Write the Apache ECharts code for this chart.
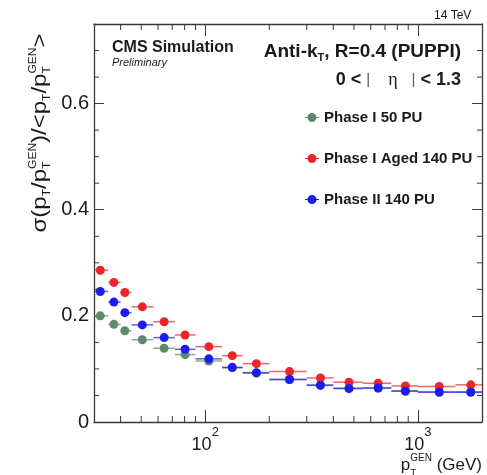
<!DOCTYPE html>
<html>
<head>
<meta charset="utf-8">
<script src="https://cdn.jsdelivr.net/npm/echarts@6/dist/echarts.min.js"></script>
<style>
  html, body { margin: 0; padding: 0; background: #fff; }
  #chart { width: 487px; height: 475px; }
</style>
</head>
<body>
<div id="chart"></div>
<script>
// pT bins (GeV) and mean pT of each bin
var binLow  = [30, 35, 40, 45, 57, 72, 90, 120, 150, 200, 300, 400, 550, 750, 1000, 1500];
var binHigh = [35, 40, 45, 57, 72, 90, 120, 150, 200, 300, 400, 550, 750, 1000, 1500, 2000];
var ptMean  = [32.1, 37.2, 41.9, 50.6, 64.1, 80.4, 104, 134, 174, 249, 348, 474, 650, 873, 1259, 1771];

// relative resolution
var phase1PU50   = [0.200, 0.184, 0.172, 0.155, 0.139, 0.127, 0.115, 0.102, 0.092, 0.080, 0.070, 0.064, 0.064, 0.059, 0.057, 0.057];
var phase1Aged   = [0.286, 0.263, 0.244, 0.217, 0.189, 0.164, 0.142, 0.125, 0.110, 0.095, 0.083, 0.075, 0.073, 0.068, 0.067, 0.070];
var phase2PU140  = [0.246, 0.226, 0.206, 0.183, 0.159, 0.137, 0.119, 0.103, 0.093, 0.080, 0.069, 0.063, 0.064, 0.058, 0.056, 0.056];

var seriesNames  = ['Phase I 50 PU', 'Phase I Aged 140 PU', 'Phase II 140 PU'];
var seriesColors = ['#5c8a6c', '#e8262b', '#1c1cf0'];

var xMinor = [40, 50, 60, 70, 80, 90, 200, 300, 400, 500, 600, 700, 800, 900];
var yMinor = [0.05, 0.1, 0.15, 0.25, 0.3, 0.35, 0.45, 0.5, 0.55, 0.65, 0.7];

var FONT = "'Liberation Sans', Arial, Helvetica, sans-serif";
var frameColor = '#3a3a3a';
var textColor = '#1a1a1a';

var measureCtx = document.createElement('canvas').getContext('2d');
function textWidth(t, font) {
  measureCtx.font = font;
  return measureCtx.measureText(t).width;
}
function fontOf(s) {
  return (s.italic ? 'italic ' : '') + (s.bold ? 'bold ' : '') + s.size + 'px ' + (s.family || FONT);
}
function txt(text, font, x, y, color) {
  return {
    type: 'text', x: x, y: y, silent: true,
    style: {
      text: text, font: font, fill: color,
      align: 'left', verticalAlign: 'middle',
      textAlign: 'left', textVerticalAlign: 'middle'
    }
  };
}
// runs of text with sub/superscripts (stacked like ROOT)
function mathText(segs, x, y, align, rotation, stretch) {
  var kids = [], cx = 0;
  segs.forEach(function (s) {
    var f = fontOf(s);
    cx += s.padL || 0;
    if (s.t != null) {
      kids.push(txt(s.t, f, cx, s.dy || 0, s.color || textColor));
      cx += textWidth(s.t, f);
    } else {
      var w = 0;
      if (s.sup) {
        kids.push(txt(s.sup, f, cx, s.supDy, textColor));
        w = Math.max(w, textWidth(s.sup, f));
      }
      if (s.sub) {
        kids.push(txt(s.sub, f, cx, s.subDy, textColor));
        w = Math.max(w, textWidth(s.sub, f));
      }
      cx += w;
    }
    cx += s.padR || 0;
  });
  var off = align === 'right' ? -cx : (align === 'center' ? -cx / 2 : 0);
  kids.forEach(function (k) { k.x += off; });
  return {
    type: 'group', x: x, y: y, rotation: rotation || 0, scaleX: stretch || 1,
    silent: true, children: kids
  };
}

function errBars(vals, color) {
  return {
    type: 'custom', name: '', coordinateSystem: 'cartesian2d', silent: true, clip: false,
    data: vals.map(function (v, i) { return [binLow[i], binHigh[i], v]; }),
    encode: { x: [0, 1], y: 2 },
    renderItem: function (params, api) {
      var a = api.coord([api.value(0), api.value(2)]);
      var b = api.coord([api.value(1), api.value(2)]);
      return {
        type: 'line',
        shape: { x1: a[0], y1: a[1], x2: b[0], y2: b[1] },
        style: { stroke: color, lineWidth: 1.5, opacity: 0.7 }
      };
    }
  };
}
function points(name, vals, color) {
  return {
    type: 'scatter', name: name, silent: true, symbolSize: 9,
    itemStyle: { color: color, opacity: 1 },
    data: vals.map(function (v, i) { return [ptMean[i], v]; })
  };
}

var minorTicks = {
  type: 'custom', name: '', coordinateSystem: 'cartesian2d', silent: true, clip: false, z: 5,
  data: xMinor.map(function (v) { return [v, 0, 0]; })
    .concat(yMinor.map(function (v) { return [30, v, 1]; })),
  encode: { x: 0, y: 1 },
  renderItem: function (params, api) {
    var v0 = api.value(0), v1 = api.value(1), lines = [];
    var st = { stroke: frameColor, lineWidth: 1 };
    if (api.value(2) === 0) {
      var b = api.coord([v0, 0]), t = api.coord([v0, 0.75]);
      lines.push({ type: 'line', shape: { x1: b[0], y1: b[1], x2: b[0], y2: b[1] - 6 }, style: st });
      lines.push({ type: 'line', shape: { x1: t[0], y1: t[1], x2: t[0], y2: t[1] + 6 }, style: st });
    } else {
      var l = api.coord([30, v1]), r = api.coord([2000, v1]);
      lines.push({ type: 'line', shape: { x1: l[0], y1: l[1], x2: l[0] + 5, y2: l[1] }, style: st });
      lines.push({ type: 'line', shape: { x1: r[0], y1: r[1], x2: r[0] - 5, y2: r[1] }, style: st });
    }
    return { type: 'group', children: lines };
  }
};

var axisLine = { show: true, onZero: false, lineStyle: { color: frameColor, width: 1.3 } };
var scripts = { size: 10, subDy: 7, supDy: -7 };

var chart = echarts.init(document.getElementById('chart'));
var option = {
  backgroundColor: '#fff',
  animation: false,
  grid: { left: 94, right: 5, top: 24, bottom: 53, containLabel: false },
  legend: {
    orient: 'vertical', left: 300, top: 105, itemGap: 26, padding: 5,
    itemWidth: 14, itemHeight: 9, selectedMode: false,
    icon: 'path://M0,4 L14,4 L14,5 L0,5 Z M2.5,4.5 A4.5,4.5 0 1 1 11.5,4.5 A4.5,4.5 0 1 1 2.5,4.5 Z',
    textStyle: { fontFamily: FONT, fontSize: 15, fontWeight: 'bold', color: textColor },
    data: seriesNames
  },
  xAxis: [{
    type: 'log', logBase: 10, min: 30, max: 2000, position: 'bottom',
    axisLine: axisLine,
    axisTick: { show: true, inside: true, length: 12, lineStyle: { color: frameColor } },
    axisLabel: {
      margin: 4, color: textColor, fontFamily: FONT,
      formatter: function (v) {
        var e = Math.log10(v);
        if (Math.abs(e - Math.round(e)) > 1e-4) return '';
        return '{b|10}{s|' + Math.round(e) + '}';
      },
      rich: {
        b: { fontSize: 18, lineHeight: 28, verticalAlign: 'bottom', fontFamily: FONT, color: textColor },
        s: { fontSize: 13, lineHeight: 12, verticalAlign: 'top', fontFamily: FONT, color: textColor }
      }
    },
    splitLine: { show: false }
  }, {
    type: 'log', logBase: 10, min: 30, max: 2000, position: 'top',
    axisLine: axisLine,
    axisTick: { show: true, inside: true, length: 12, lineStyle: { color: frameColor } },
    axisLabel: { show: false },
    splitLine: { show: false }
  }],
  yAxis: [{
    type: 'value', min: 0, max: 0.75, interval: 0.2, position: 'left',
    axisLine: axisLine,
    axisTick: { show: true, inside: true, length: 10, lineStyle: { color: frameColor } },
    axisLabel: {
      margin: 5, fontSize: 20, fontFamily: FONT, color: textColor,
      formatter: function (v) {
        var k = v / 0.2;
        if (Math.abs(k - Math.round(k)) > 1e-6) return '';
        return v === 0 ? '0' : v.toFixed(1);
      }
    },
    splitLine: { show: false }
  }, {
    type: 'value', min: 0, max: 0.75, interval: 0.2, position: 'right',
    axisLine: axisLine,
    axisTick: { show: true, inside: true, length: 10, lineStyle: { color: frameColor } },
    axisLabel: { show: false },
    splitLine: { show: false }
  }],
  series: [
    minorTicks,
    errBars(phase1PU50, seriesColors[0]),
    points(seriesNames[0], phase1PU50, seriesColors[0]),
    errBars(phase1Aged, seriesColors[1]),
    points(seriesNames[1], phase1Aged, seriesColors[1]),
    errBars(phase2PU140, seriesColors[2]),
    points(seriesNames[2], phase2PU140, seriesColors[2])
  ],
  graphic: [
    txt('14 TeV', '12px ' + FONT, 434, 16, textColor),
    txt('CMS Simulation', 'bold 16px ' + FONT, 112, 47.5, textColor),
    txt('Preliminary', 'italic 11px ' + FONT, 112, 63, textColor),
    mathText([
      { t: 'Anti-k', size: 19, bold: true },
      { sub: 'T', size: 11, bold: true, subDy: 6 },
      { t: ', R=0.4 (PUPPI)', size: 19, bold: true }
    ], 461, 51.5, 'right'),
    mathText([
      { t: '0 < ', size: 18, bold: true },
      { t: '|', size: 15, color: '#555' },
      { t: '\u03b7', size: 18, family: "'Liberation Serif', 'DejaVu Serif', serif", padL: 18, padR: 14 },
      { t: '|', size: 15, color: '#555' },
      { t: ' < 1.3', size: 18, bold: true }
    ], 461, 80, 'right'),
    // y-axis title
    mathText([
      { t: '\u03c3(p', size: 20 },
      { sub: 'T', size: scripts.size, subDy: scripts.subDy },
      { t: '/p', size: 20 },
      { sub: 'T', sup: 'GEN', size: scripts.size, subDy: scripts.subDy, supDy: scripts.supDy },
      { t: ')/<p', size: 20 },
      { sub: 'T', size: scripts.size, subDy: scripts.subDy },
      { t: '/p', size: 20 },
      { sub: 'T', sup: 'GEN', size: scripts.size, subDy: scripts.subDy, supDy: scripts.supDy },
      { t: '>', size: 20 }
    ], 40, 133, 'center', Math.PI / 2, 1.2),
    // x-axis title
    mathText([
      { t: 'p', size: 17 },
      { sub: 'T', sup: 'GEN', size: 10, subDy: 9, supDy: -7 },
      { t: ' (GeV)', size: 17 }
    ], 482, 465, 'right')
  ]
};
chart.setOption(option);
</script>
</body>
</html>
